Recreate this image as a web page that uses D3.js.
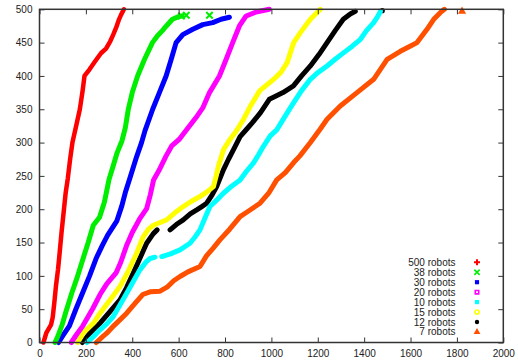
<!DOCTYPE html>
<html>
<head>
<meta charset="utf-8">
<script src="https://cdn.jsdelivr.net/npm/d3@7"></script>
<style>
html,body{margin:0;padding:0;background:#fff;}
svg{display:block;font-family:"Liberation Sans",Arial,Helvetica,sans-serif;}
</style>
</head>
<body>
<svg id="chart" width="518" height="360"></svg>
<script>
// ---- data (x = time, y = count), null marks a gap ----
const seriesNames = ["500 robots","38 robots","30 robots","20 robots","10 robots","15 robots","12 robots","7 robots"];
const seriesColors = ["#ff0000","#00ee00","#0000ff","#ff00ff","#00ffff","#ffff00","#000000","#ff5000"];
const seriesSymbols = ["plus","cross","square","openSquare","square","openCircle","circle","triangle"];

const r500 = [[17,0],[30,15],[50,27],[57,38],[64,60],[71,85],[80,110],[87,135],[95,165],[104,195],[113,225],[122,246],[132,275],[142,300],[158,325],[174,350],[186,378],[194,400],[216,410],[240,422],[265,434],[287,441],[305,452],[318,462],[330,472],[343,485],[352,492],[364,500]];
const r38 = [[67,0],[80,10],[98,27],[113,45],[140,75],[160,95],[187,125],[210,150],[232,176],[259,188],[280,211],[300,245],[315,262],[335,285],[355,302],[370,322],[383,350],[400,375],[423,400],[453,425],[487,450],[508,460],[530,468],[547,475],[573,485],[600,489],[615,490]];
const r38Extra = [[612,490],[633,491],[733,491]];
const r30 = [[82,0],[100,10],[129,25],[158,51],[190,78],[216,100],[244,126],[270,145],[294,161],[333,182],[355,205],[370,225],[390,247],[419,279],[440,300],[455,318],[488,350],[517,375],[546,400],[568,425],[589,450],[618,462],[661,470],[704,477],[747,480],[783,485],[819,488]];
const r20 = [[137,0],[160,12],[187,25],[230,51],[261,72],[290,88],[331,105],[350,120],[375,145],[400,165],[431,185],[462,201],[478,222],[492,244],[515,258],[546,280],[570,295],[603,305],[640,322],[680,340],[704,352],[733,375],[776,400],[805,425],[833,450],[862,475],[891,490],[934,496],[991,500]];
const r10 = [[205,0],[230,8],[261,19],[290,28],[318,39],[345,55],[376,74],[405,92],[433,109],[460,121],[477,126],[498,128],null,[527,129],[565,133],[606,139],[649,149],[670,158],[692,169],[715,188],[735,204],[765,214],[793,224],[830,235],[865,244],[895,258],[922,269],[945,282],[965,294],[995,310],[1023,319],[1060,340],[1096,360],[1130,378],[1168,395],[1200,405],[1240,415],[1275,425],[1312,435],[1350,445],[1384,455],[1410,468],[1441,480],[1460,490],[1470,497]];
const r15 = [[165,0],[190,15],[235,30],[261,44],[300,62],[347,84],[380,105],[419,134],[448,159],[470,170],[491,176],[520,180],[548,184],[585,195],[620,204],[655,212],[692,219],[722,226],[750,234],[762,250],[771,264],[793,289],[818,303],[850,318],[880,335],[910,355],[950,378],[1010,395],[1040,405],[1068,420],[1096,450],[1125,465],[1168,485],[1211,500]];
const r12 = [[185,0],[215,13],[261,29],[300,45],[347,64],[375,82],[404,104],[435,128],[462,149],[490,163],[507,169],null,[563,169],[590,177],[620,184],[650,193],[678,199],[700,204],[721,209],[745,222],[764,234],[793,259],[815,275],[836,289],[865,309],[893,320],[918,330],[953,345],[991,365],[1009,368],[1050,375],[1095,385],[1130,400],[1168,415],[1205,432],[1240,450],[1275,468],[1310,485],[1340,493],[1362,497]];
const r12Extra = [[1478,498]];
const r7 = [[245,0],[270,8],[290,14],[320,25],[350,35],[376,44],[410,58],[445,72],[477,76],[520,77],[550,83],[580,93],[606,99],[640,106],[692,114],[720,130],[750,142],[778,154],[820,170],[865,189],[900,197],[951,209],[990,225],[1023,244],[1060,255],[1096,270],[1123,280],[1168,300],[1210,320],[1240,335],[1297,355],[1369,375],[1441,395],[1470,410],[1499,425],[1556,437],[1600,445],[1628,450],[1671,470],[1700,485],[1728,495],[1746,500]];
const r7Extra = [[1822,497]];

const seriesData = [r500, r38, r30, r20, r10, r15, r12, r7];
const seriesExtra = [[], r38Extra, [], [], [], [], r12Extra, r7Extra];
const drawOrder = [7,6,5,4,3,2,1,0];

const xTicks = [0,200,400,600,800,1000,1200,1400,1600,1800,2000];
const yTicks = [0,50,100,150,200,250,300,350,400,450,500];

// ---- layout ----
const L = 39.5, R = 503.3, T = 9.3, B = 342.5;
const svg = d3.select("#chart");
const x = d3.scaleLinear().domain([0,2000]).range([L,R]);
const y = d3.scaleLinear().domain([0,500]).range([B,T]);

function symbolPath(kind, s){
  switch(kind){
    case "plus": return d3.symbol(d3.symbolCross, s*s*0.8)();
    case "cross": return d3.symbol(d3.symbolX, s*s*0.8)();
    case "square": return d3.symbol(d3.symbolSquare, s*s*0.7)();
    case "openSquare": return d3.symbol(d3.symbolSquare2, s*s*0.6)();
    case "circle": return d3.symbol(d3.symbolCircle, s*s*0.6)();
    case "openCircle": return d3.symbol(d3.symbolCircle2, s*s*0.55)();
    case "triangle": return d3.symbol(d3.symbolTriangle, s*s*0.8)();
  }
}
function isStroke(kind){ return kind==="cross"||kind==="openSquare"||kind==="openCircle"; }

// series
const line = d3.line().defined(d => d !== null).x(d => x(d[0])).y(d => y(d[1]));
const gS = svg.append("g");
drawOrder.forEach(i => {
  gS.append("path").datum(seriesData[i])
    .attr("d", line)
    .attr("fill","none")
    .attr("stroke", seriesColors[i])
    .attr("stroke-width", i===0 ? 4.5 : 5)
    .attr("stroke-linejoin","round")
    .attr("stroke-linecap","round");
  seriesExtra[i].forEach(p => {
    const k = seriesSymbols[i];
    gS.append("path")
      .attr("d", symbolPath(k, 6))
      .attr("transform", `translate(${x(p[0])},${y(p[1])})`)
      .attr("fill", isStroke(k) ? "none" : seriesColors[i])
      .attr("stroke", isStroke(k) ? seriesColors[i] : "none")
      .attr("stroke-width", 2);
  });
});

// axes
const axisColor = "#333";
const gx = svg.append("g").attr("transform",`translate(0,${B})`)
  .call(d3.axisBottom(x).tickValues(xTicks).tickFormat(d3.format("d")).tickSizeInner(-5).tickSizeOuter(0).tickPadding(7));
const gy = svg.append("g").attr("transform",`translate(${L},0)`)
  .call(d3.axisLeft(y).tickValues(yTicks).tickFormat(d3.format("d")).tickSizeInner(-5).tickSizeOuter(0).tickPadding(7));
const gt = svg.append("g").attr("transform",`translate(0,${T})`)
  .call(d3.axisTop(x).tickValues(xTicks).tickFormat("").tickSizeInner(-5).tickSizeOuter(0));
const gr = svg.append("g").attr("transform",`translate(${R},0)`)
  .call(d3.axisRight(y).tickValues(yTicks).tickFormat("").tickSizeInner(-5).tickSizeOuter(0));
[gx,gy,gt,gr].forEach(g => {
  g.selectAll(".domain").remove();
  g.selectAll("line").attr("stroke", axisColor).attr("stroke-width",1);
  g.selectAll("text").attr("fill","#222").style("font-size","10px").style("font-family","'Liberation Sans',Arial,sans-serif");
});
svg.append("rect").attr("x",L).attr("y",T).attr("width",R-L).attr("height",B-T)
  .attr("fill","none").attr("stroke",axisColor).attr("stroke-width",1.5);

// legend
const lg = svg.append("g");
seriesNames.forEach((name,i) => {
  const yy = 262.3 + i*9.95;
  lg.append("text").attr("x",455.5).attr("y",yy).attr("dy","0.35em")
    .attr("text-anchor","end").attr("fill","#222").style("font-size","10px").text(name);
  const k = seriesSymbols[i];
  lg.append("path")
    .attr("d", symbolPath(k, 5))
    .attr("transform", `translate(477,${yy})`)
    .attr("fill", isStroke(k) ? "none" : seriesColors[i])
    .attr("stroke", isStroke(k) ? seriesColors[i] : "none")
    .attr("stroke-width", 1.6);
});
</script>
</body>
</html>
